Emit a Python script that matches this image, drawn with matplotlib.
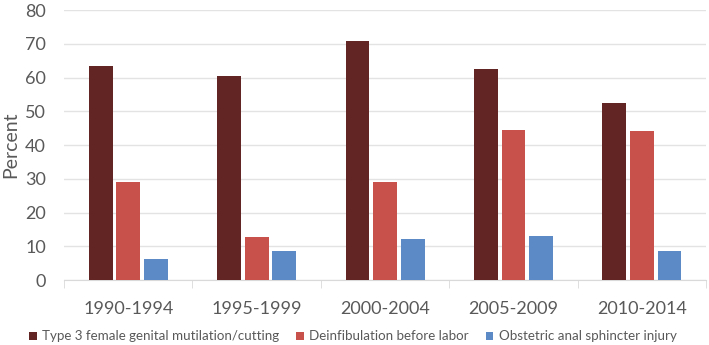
import matplotlib
matplotlib.use("Agg")
import matplotlib.pyplot as plt
import numpy as np

categories = ["1990-1994", "1995-1999", "2000-2004", "2005-2009", "2010-2014"]
series_names = ["Type 3 female genital mutilation/cutting",
                "Deinfibulation before labor",
                "Obstetric anal sphincter injury"]
type3 = [63.4, 60.5, 70.9, 62.4, 52.5]
deinfib = [29.1, 12.7, 29.1, 44.6, 44.1]
oasi = [6.2, 8.5, 12.2, 13.2, 8.5]
colors = ["#632523", "#C9514C", "#5B8AC6"]

plt.rcParams['font.family'] = ['Lato', 'DejaVu Sans']
fig = plt.figure(figsize=(7.09, 3.45), dpi=100)
ax = fig.add_axes([0.0903, 0.188, 0.9057, 0.783])

x = np.arange(len(categories))
w = 0.185
step = 0.215
for i, (vals, name, c) in enumerate(zip([type3, deinfib, oasi], series_names, colors)):
    ax.bar(x + (i - 1) * step, vals, w, color=c, label=name, zorder=3)

ax.set_xlim(-0.5, len(categories) - 0.5)
ax.set_ylim(0, 80)
ax.set_yticks(range(0, 81, 10))
ax.set_xticks(x)
ax.set_xticklabels(categories)
ax.set_xticks(np.arange(-0.5, len(categories), 1), minor=True)
ax.tick_params(axis='x', which='major', length=0, pad=15, labelsize=13, labelcolor="#595959")
ax.tick_params(axis='x', which='minor', length=6, color="#D9D9D9", direction='out')
ax.tick_params(axis='y', length=0, pad=13, labelsize=13, labelcolor="#595959")
ax.grid(axis='y', color="#E3E3E3", linewidth=1, zorder=0)
for s in ['top', 'right', 'left']:
    ax.spines[s].set_visible(False)
ax.spines['bottom'].set_color("#D9D9D9")
ax.set_ylabel("Percent", fontsize=14, color="#595959", labelpad=4)

leg = ax.legend(loc='upper center', bbox_to_anchor=(0.45, -0.142), ncol=3, frameon=False,
                fontsize=9.6, handlelength=0.55, handleheight=0.55, handletextpad=0.4,
                columnspacing=1.3, labelcolor="#595959")
fig.savefig("out.png", dpi=100)
